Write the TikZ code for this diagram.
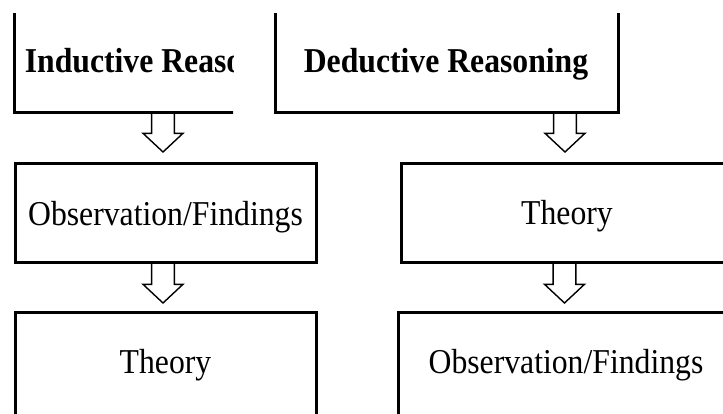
\documentclass[tikz,border=0pt]{standalone}
\usepackage{graphicx}
\usepackage{fontspec}
\setmainfont{Liberation Serif}
\newcommand{\talltext}[1]{\scalebox{1}[1.1]{#1}}
\begin{document}
\begin{tikzpicture}[x=1pt,y=-1pt,
  boxline/.style={draw, line width=3pt, rectangle, inner sep=0pt, outer sep=0pt, anchor=north west},
  lbl/.style={font=\fontsize{31.7}{36}\selectfont, inner sep=0pt, anchor=base},
  hdr/.style={font=\fontsize{31.7}{36}\selectfont\bfseries, inner sep=0pt, anchor=base},
  arrowline/.style={draw, line width=1.4pt, line join=miter},
  blockarr/.pic={\draw[arrowline] (-11.4,0) -- (11.4,0) -- (11.4,21.3) -- (20,21.3) -- (0,40) -- (-20,21.3) -- (-11.4,21.3) -- cycle;}
]
\useasboundingbox (0,0) rectangle (723,413);
\clip (0,0) rectangle (723,413);
% top row (cropped)
\begin{scope}
  \clip (0,13) rectangle (233,413);
  \node[boxline, minimum width=297pt, minimum height=150pt] (ind) at (14.7,-38) {};
  \node[hdr, anchor=base west] (indt) at (24.6,72) {\talltext{Inductive Reasoning}};
\end{scope}
\begin{scope}
  \clip (0,13) rectangle (723,413);
  \node[boxline, minimum width=342.8pt, minimum height=150pt] (ded) at (275.5,-38) {};
  \node[hdr] (dedt) at (446,72) {\talltext{Deductive Reasoning}};
\end{scope}
% middle row
\node[boxline, minimum width=301pt, minimum height=99.4pt] (ml) at (15,163.3) {};
\node[lbl] (mlt) at (165.5,225) {\talltext{Observation/Findings}};
\node[boxline, minimum width=331pt, minimum height=99.4pt] (mr) at (401.7,163.3) {};
\node[lbl] (mrt) at (567,224) {\talltext{Theory}};
% bottom row
\node[boxline, minimum width=301pt, minimum height=150pt] (bl) at (15,312.7) {};
\node[lbl] (blt) at (165.5,373) {\talltext{Theory}};
\node[boxline, minimum width=336pt, minimum height=150pt] (br) at (398,312.7) {};
\node[lbl] (brt) at (566,373) {\talltext{Observation/Findings}};
% block arrows
\pic (a1) at (163,112) {blockarr};
\pic (a2) at (565,112) {blockarr};
\pic (a3) at (163,263) {blockarr};
\pic (a4) at (564.5,263) {blockarr};
\end{tikzpicture}
\end{document}
